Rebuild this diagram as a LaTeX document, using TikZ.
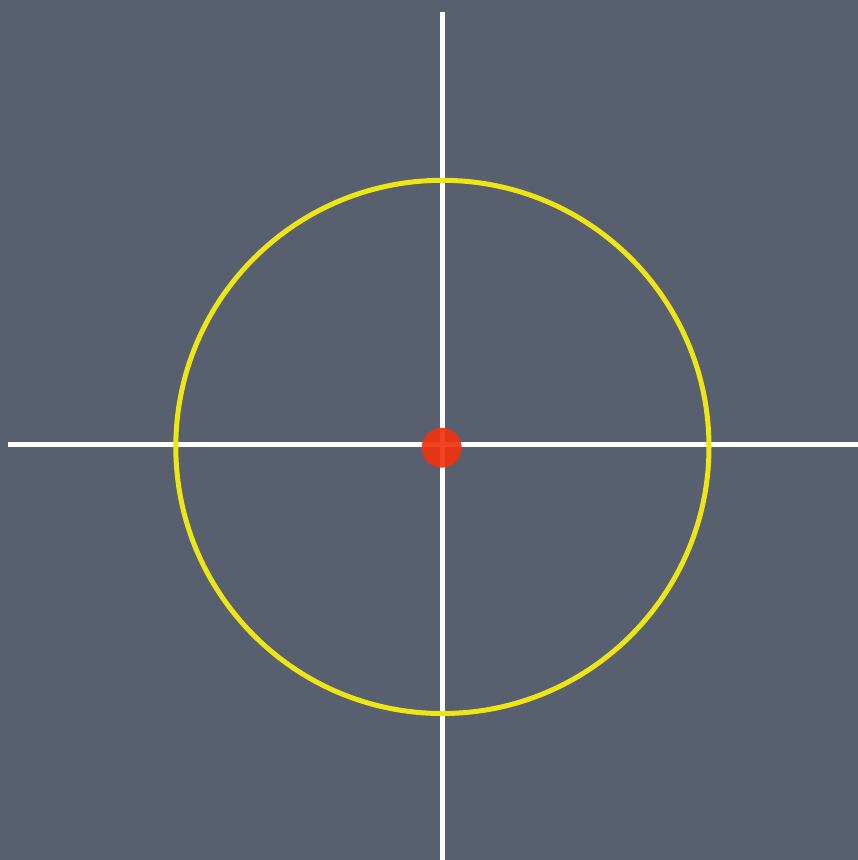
\documentclass[tikz,border=0pt]{standalone}
\usepackage{tikz}
\usetikzlibrary{positioning}
\definecolor{slate}{RGB}{88,95,111}
\definecolor{chalkyellow}{RGB}{238,230,20}
\definecolor{dotred}{RGB}{240,50,15}

\begin{document}
\begin{tikzpicture}[x=0.01cm,y=-0.01cm,line width=0.05cm]
    \fill [slate] (0,0) rectangle (858,860);
    \useasboundingbox (0,0) rectangle (858,860);
    \coordinate (O) at (442.4,446.9);
    \coordinate (W) at (7.5,444);
    \coordinate (E) at (858,444);
    \coordinate (N) at (442.3,12);
    \coordinate (S) at (442.3,860);
    \draw [white] (W) -- (E);
    \draw [white] (N) -- (S);
    \draw [chalkyellow] (O) circle [radius=266.6];
    \fill [dotred,opacity=0.92] (441.7,447.7) circle (20);
\end{tikzpicture}
\end{document}
